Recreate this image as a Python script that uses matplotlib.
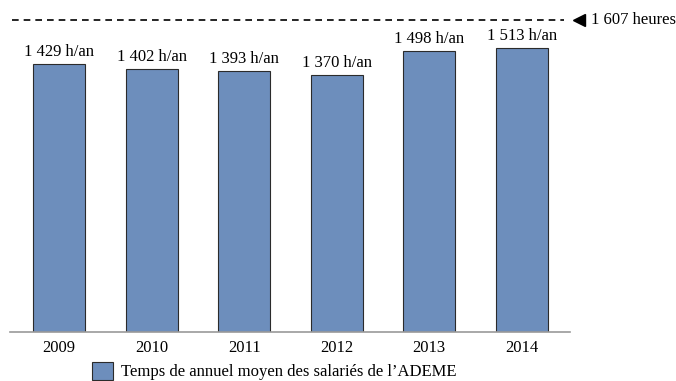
import matplotlib
matplotlib.use("Agg")
import matplotlib.pyplot as plt
from matplotlib.patches import Patch

years = ["2009", "2010", "2011", "2012", "2013", "2014"]
values = [1429, 1402, 1393, 1370, 1498, 1513]
labels = ["1 429 h/an", "1 402 h/an", "1 393 h/an", "1 370 h/an", "1 498 h/an", "1 513 h/an"]
ref_value = 1607
ref_label = "1 607 heures"
legend_label = "Temps de annuel moyen des salariés de l\u2019ADEME"

plt.rcParams['font.family'] = ['Liberation Serif', 'DejaVu Serif']
FS = 12

fig = plt.figure(figsize=(6.76, 3.81), dpi=100)
ax = fig.add_axes([10/676, 1-332/381, 560/676, (332-20)/381])

bar_color = "#6D8EBC"
x = list(range(len(years)))
bars = ax.bar(x, values, width=0.56, color=bar_color, edgecolor="#2b2b2b", linewidth=0.8, zorder=2)
for xi, v, lab in zip(x, values, labels):
    ax.annotate(lab, (xi, v), xytext=(0, 3), textcoords="offset points",
                ha="center", va="bottom", fontsize=FS)

ax.set_xlim(-0.53, 5.52)
ax.set_ylim(0, 1664)

# reference line at the top
ax.plot([0.004, 0.99], [1, 1], transform=ax.transAxes, color="black", linestyle=(0, (4, 3)),
        linewidth=1.2, clip_on=False)
ax.plot([1.016], [1], transform=ax.transAxes, marker="<", color="black", markersize=9, clip_on=False)
ax.text(1.037, 1, ref_label, transform=ax.transAxes, ha="left", va="center", fontsize=FS)

for s in ["top", "right", "left"]:
    ax.spines[s].set_visible(False)
ax.spines["bottom"].set_color("#9a9a9a")
ax.spines["bottom"].set_linewidth(1.2)
ax.set_yticks([])
ax.set_xticks(x)
ax.set_xticklabels(years, fontsize=FS)
ax.tick_params(axis="x", length=0, pad=6)

handle = Patch(facecolor=bar_color, edgecolor="#2b2b2b", linewidth=0.8)
fig.legend([handle], [legend_label], loc="center left", bbox_to_anchor=(80/676, 1-371/381),
           frameon=False, fontsize=FS, handlelength=1.3, handleheight=1.3, handletextpad=0.45,
           borderpad=0.2)

fig.savefig("out.png", dpi=100)
